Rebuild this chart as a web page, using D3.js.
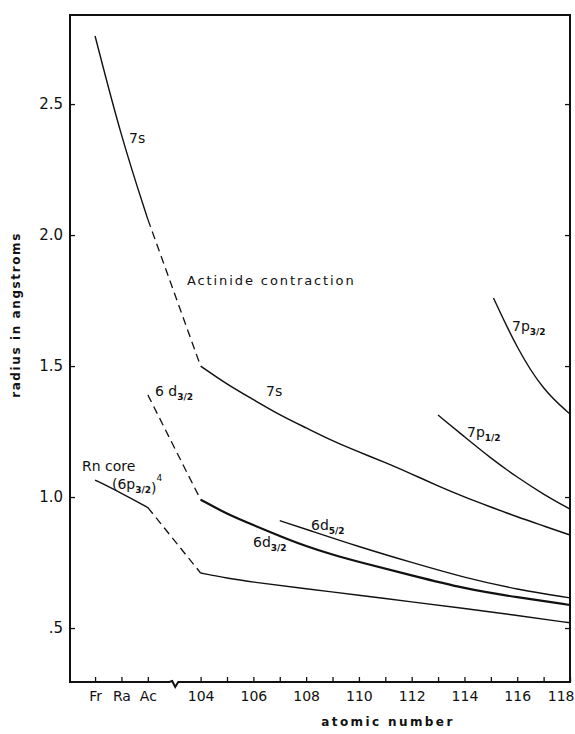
<html>
<head>
    <script src="https://d3js.org/d3.v7.min.js" charset="utf-8"></script>
    <style>
        body { margin: 0; background: #fff; }
        text { font-family: "DejaVu Sans", sans-serif; fill: #111; }
    </style>
</head>

<body>
    <script type="text/javascript">
        var width = 575;
        var height = 734;

        // frame of the plot
        var margin = { top: 15, right: 5, bottom: 52, left: 70 };

        // x positions: Fr, Ra, Ac sit in slots 0-2, slot 3 is the axis break, 104..118 follow
        var heavyElements = ["Fr", "Ra", "Ac"];
        var heavyZ = [87, 88, 89];
        var superheavyZ = d3.range(104, 119);
        var yTickValues = [0.5, 1.0, 1.5, 2.0, 2.5];
        var yTickLabels = [".5", "1.0", "1.5", "2.0", "2.5"];

        // radii, [atomic number, radius in angstroms]
        var s7Heavy = [[87, 2.76], [88, 2.37], [89, 2.06]];
        var s7Dash = [[89, 2.06], [104, 1.50]];
        var s7 = [[104, 1.50], [105, 1.43], [106, 1.372], [107, 1.313], [108, 1.264], [109, 1.214],
                  [110, 1.172], [111, 1.132], [112, 1.088], [113, 1.042], [114, 1.0], [115, 0.962],
                  [116, 0.924], [117, 0.89], [118, 0.855]];
        var d32Dash = [[89, 1.39], [104, 0.99]];
        var d32 = [[104, 0.99], [105, 0.935], [106, 0.893], [107, 0.851], [108, 0.812], [109, 0.78],
                   [110, 0.752], [112, 0.701], [114, 0.65], [116, 0.617], [118, 0.588]];
        var d52 = [[107, 0.91], [108, 0.877], [110, 0.81], [112, 0.75], [114, 0.692], [116, 0.647], [118, 0.615]];
        var rnHeavy = [[87, 1.065], [88, 1.015], [89, 0.96]];
        var rnDash = [[89, 0.96], [104, 0.71]];
        var rn = [[104, 0.71], [105, 0.69], [106, 0.675], [108, 0.65], [110, 0.625], [112, 0.60],
                  [114, 0.575], [116, 0.548], [118, 0.52]];
        var p12 = [[113, 1.313], [114, 1.23], [115, 1.148], [116, 1.075], [117, 1.01], [118, 0.954]];
        var p32 = [[115.1, 1.76], [116, 1.565], [117, 1.405], [118, 1.317]];

        function slot(z) {
            return z < 100 ? z - 87 : z - 100;
        }

        const svg = d3.select("body").append("svg")
            .attr("width", width)
            .attr("height", height);

        var xScale = d3.scaleLinear()
            .domain([-0.95, 18])
            .range([margin.left, width - margin.right]);

        var yScale = d3.scaleLinear()
            .domain([0.294, 2.84])
            .range([height - margin.bottom, margin.top]);

        var x0 = xScale.range()[0], x1 = xScale.range()[1];
        var y0 = yScale.range()[0], y1 = yScale.range()[1];

        // frame with the little break on the bottom axis
        var xb = xScale(3);
        svg.append("path")
            .attr("d", "M" + x0 + "," + y1 + "H" + x1 + "V" + y0 +
                "H" + (xb + 4) + "L" + (xb + 1) + "," + (y0 + 5) + "L" + (xb - 2) + "," + (y0 - 1) +
                "L" + (xb - 5) + "," + y0 + "H" + x0 + "Z")
            .attr("fill", "none")
            .attr("stroke", "#111")
            .attr("stroke-width", 2);

        // y axis, ticks pointing in
        var yAxis = svg.append("g")
            .attr("transform", "translate(" + x0 + ",0)")
            .call(d3.axisLeft(yScale)
                .tickValues(yTickValues)
                .tickSizeInner(-5)
                .tickSizeOuter(0)
                .tickPadding(7)
                .tickFormat((d, i) => yTickLabels[i]));
        yAxis.select(".domain").remove();
        yAxis.selectAll("line").attr("stroke", "#111").attr("stroke-width", 1.3);
        yAxis.selectAll("text")
            .style("font-family", "DejaVu Sans")
            .style("font-size", "15px")
            .attr("fill", "#111");

        var rAxis = svg.append("g")
            .attr("transform", "translate(" + x1 + ",0)")
            .call(d3.axisRight(yScale)
                .tickValues(yTickValues)
                .tickSizeInner(-5)
                .tickSizeOuter(0)
                .tickFormat(""));
        rAxis.select(".domain").remove();
        rAxis.selectAll("line").attr("stroke", "#111").attr("stroke-width", 1.3);

        // x axis
        var xTicks = [0, 1, 2].concat(superheavyZ.map(slot));
        var xAxis = svg.append("g")
            .attr("transform", "translate(0," + y0 + ")")
            .call(d3.axisBottom(xScale)
                .tickValues(xTicks)
                .tickSizeInner(-5)
                .tickSizeOuter(0)
                .tickPadding(9)
                .tickFormat(d => d < 3 ? heavyElements[d] : ((d + 100) % 2 === 0 ? String(d + 100) : "")));
        xAxis.select(".domain").remove();
        xAxis.selectAll("line").attr("stroke", "#111").attr("stroke-width", 1.3);
        xAxis.selectAll("text")
            .style("font-family", "DejaVu Sans")
            .style("font-size", "14px")
            .attr("fill", "#111");
        // last label sits against the right edge
        xAxis.selectAll("text")
            .filter(d => d === 18)
            .attr("text-anchor", "end")
            .attr("dx", 4);

        // axis titles
        svg.append("text")
            .attr("transform", "translate(20," + 315 + ") rotate(-90)")
            .attr("text-anchor", "middle")
            .style("font-size", "12px")
            .style("font-weight", "bold")
            .style("letter-spacing", "1.6px")
            .text("radius in angstroms");

        svg.append("text")
            .attr("x", 388)
            .attr("y", 726)
            .attr("text-anchor", "middle")
            .style("font-size", "12px")
            .style("font-weight", "bold")
            .style("letter-spacing", "2.4px")
            .text("atomic number");

        // curves
        var smooth = d3.line()
            .x(d => xScale(slot(d[0])))
            .y(d => yScale(d[1]))
            .curve(d3.curveBasis);

        var straight = d3.line()
            .x(d => xScale(slot(d[0])))
            .y(d => yScale(d[1]));

        var curves = [
            { data: s7Heavy, dash: null, w: 1.4 },
            { data: s7Dash, dash: "8,5", w: 1.3 },
            { data: s7, dash: null, w: 1.5 },
            { data: d32Dash, dash: "8,5", w: 1.3 },
            { data: d32, dash: null, w: 2.2 },
            { data: d52, dash: null, w: 1.4 },
            { data: rnHeavy, dash: null, w: 1.4 },
            { data: rnDash, dash: "8,5", w: 1.3 },
            { data: rn, dash: null, w: 1.4 },
            { data: p12, dash: null, w: 1.4 },
            { data: p32, dash: null, w: 1.4 }
        ];

        svg.append("g")
            .selectAll("path")
            .data(curves)
            .join("path")
                .attr("d", d => d.dash ? straight(d.data) : smooth(d.data))
                .attr("fill", "none")
                .attr("stroke", "#111")
                .attr("stroke-width", d => d.w)
                .attr("stroke-dasharray", d => d.dash);

        // curve labels
        function label(x, y, main, sub, sup, size) {
            var t = svg.append("text")
                .attr("x", x)
                .attr("y", y)
                .style("font-size", (size || 14) + "px");
            t.append("tspan").text(main);
            if (sub) {
                t.append("tspan")
                    .attr("dy", 4)
                    .style("font-size", "9px")
                    .style("font-weight", "bold")
                    .text(sub);
            }
            if (sup) {
                t.append("tspan")
                    .attr("dy", sub ? -12 : -7)
                    .style("font-size", "9px")
                    .text(sup);
            }
            return t;
        }

        label(129, 143, "7s");
        label(266, 396, "7s");
        label(187, 285, "Actinide contraction", null, null, 13)
            .style("letter-spacing", "1.9px");
        label(155, 396, "6 d", "3/2");
        label(82, 471, "Rn core");
        label(112, 489, "(6p", "3/2", "4")
            .insert("tspan", "tspan:nth-child(3)")
            .text(")");
        label(311, 530, "6d", "5/2");
        label(253, 547, "6d", "3/2");
        label(467, 437, "7p", "1/2");
        label(512, 331, "7p", "3/2");
    </script>
</body>
</html>
